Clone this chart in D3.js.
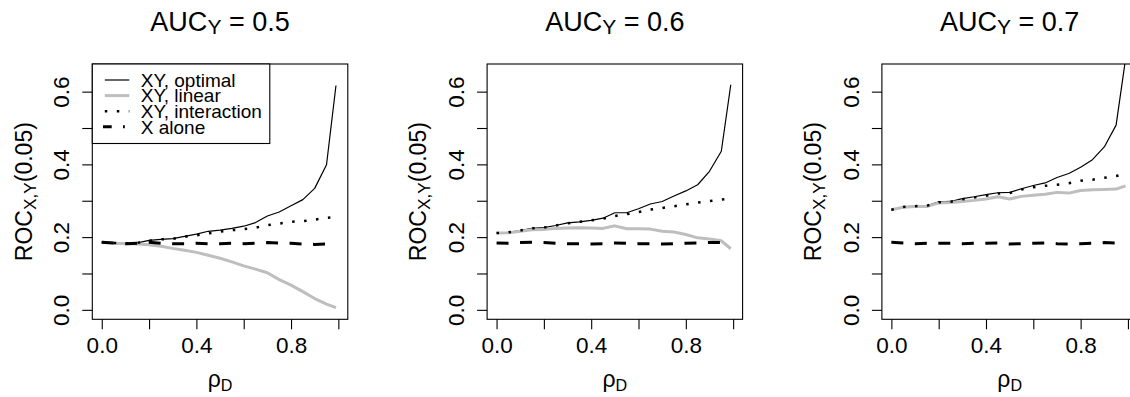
<!DOCTYPE html>
<html>
<head>
<meta charset="utf-8">
<script src="https://cdn.jsdelivr.net/npm/d3@7"></script>
<style>
  body { margin: 0; background: #fff; }
  svg { display: block; font-family: "Liberation Sans", Arial, Helvetica, sans-serif; }
</style>
</head>
<body>
<div class="container"></div>
<script>
const rho = [0, 0.05, 0.1, 0.15, 0.2, 0.25, 0.3, 0.35, 0.4, 0.45, 0.5,
  0.55, 0.6, 0.65, 0.7, 0.75, 0.8, 0.85, 0.9, 0.95, 0.99];

const aucLabels = ['0.5', '0.6', '0.7'];
const seriesNames = ['XY, optimal', 'XY, linear', 'XY, interaction', 'X alone'];
const xTicks = [0, 0.2, 0.4, 0.6, 0.8, 1.0];
const xTickLabels = ['0.0', '', '0.4', '', '0.8', ''];
const yTicks = [0, 0.1, 0.2, 0.3, 0.4, 0.5, 0.6];
const yTickLabels = ['0.0', '', '0.2', '', '0.4', '', '0.6'];

// AUC_Y = 0.5
const optimal05 = [0.186, 0.184, 0.183, 0.184, 0.191, 0.194, 0.196, 0.202, 0.208, 0.216, 0.219,
  0.224, 0.230, 0.240, 0.258, 0.269, 0.286, 0.303, 0.334, 0.399, 0.617];
const linear05 = [0.186, 0.183, 0.182, 0.181, 0.179, 0.175, 0.169, 0.164, 0.158, 0.150, 0.142,
  0.132, 0.121, 0.112, 0.102, 0.083, 0.068, 0.050, 0.031, 0.016, 0.006];
const interaction05 = [0.186, 0.184, 0.183, 0.184, 0.190, 0.194, 0.195, 0.201, 0.205, 0.210, 0.215,
  0.219, 0.222, 0.226, 0.233, 0.237, 0.242, 0.244, 0.248, 0.253, 0.255];
const alone05 = [0.186, 0.184, 0.182, 0.183, 0.186, 0.183, 0.182, 0.182, 0.183, 0.182, 0.182,
  0.183, 0.182, 0.183, 0.185, 0.184, 0.183, 0.181, 0.180, 0.181, 0.184];

// AUC_Y = 0.6
const optimal06 = [0.211, 0.213, 0.218, 0.224, 0.226, 0.232, 0.239, 0.242, 0.246, 0.252, 0.267,
  0.267, 0.278, 0.291, 0.298, 0.313, 0.327, 0.344, 0.381, 0.436, 0.619];
const linear06 = [0.211, 0.212, 0.216, 0.220, 0.221, 0.224, 0.225, 0.226, 0.225, 0.224, 0.231,
  0.223, 0.223, 0.222, 0.216, 0.214, 0.207, 0.198, 0.195, 0.190, 0.168];
const interaction06 = [0.211, 0.213, 0.218, 0.224, 0.226, 0.232, 0.238, 0.242, 0.246, 0.251, 0.258,
  0.263, 0.269, 0.276, 0.280, 0.285, 0.290, 0.295, 0.299, 0.303, 0.306];
const alone06 = [0.184, 0.183, 0.185, 0.186, 0.185, 0.183, 0.182, 0.182, 0.181, 0.182, 0.184,
  0.183, 0.182, 0.182, 0.181, 0.182, 0.183, 0.184, 0.185, 0.185, 0.181];

// AUC_Y = 0.7
const optimal07 = [0.275, 0.283, 0.285, 0.286, 0.297, 0.298, 0.306, 0.311, 0.317, 0.322, 0.323,
  0.333, 0.342, 0.349, 0.364, 0.375, 0.392, 0.413, 0.448, 0.508, 0.690];
const linear07 = [0.275, 0.282, 0.284, 0.284, 0.294, 0.295, 0.298, 0.301, 0.305, 0.311, 0.305,
  0.312, 0.315, 0.318, 0.323, 0.321, 0.328, 0.330, 0.331, 0.332, 0.341];
const interaction07 = [0.275, 0.283, 0.285, 0.286, 0.296, 0.297, 0.304, 0.309, 0.314, 0.320, 0.321,
  0.331, 0.337, 0.341, 0.344, 0.348, 0.355, 0.358, 0.363, 0.368, 0.374];
const alone07 = [0.186, 0.184, 0.182, 0.183, 0.183, 0.183, 0.182, 0.183, 0.183, 0.184, 0.181,
  0.182, 0.183, 0.184, 0.182, 0.181, 0.182, 0.183, 0.185, 0.184, 0.184];

(function(){
  const config = {
    w: 1130, h: 397,
    box: {left: 92.3, step: 394.8, top: 64, w: 255.5, h: 255.3},
    tick: 10,
    font: {tick: 22.5, lab: 23, title: 27, legend: 19}
  };

  const styles = [
    {stroke: '#000', width: 1.2, dash: null},
    {stroke: '#bebebe', width: 3, dash: null},
    {stroke: '#000', width: 2.5, dash: '2.5,9.5'},
    {stroke: '#000', width: 3, dash: '12,11.5'}
  ];

  const panels = [
    [optimal05, linear05, interaction05, alone05],
    [optimal06, linear06, interaction06, alone06],
    [optimal07, linear07, interaction07, alone07]
  ];

  const svg = d3.select('.container').append('svg')
    .attr('width', config.w)
    .attr('height', config.h);

  const x = d3.scaleLinear().domain([-0.04, 1.04]).range([0, config.box.w]);
  const y = d3.scaleLinear().domain([-0.026, 0.676]).range([config.box.h, 0]);

  const line = d3.line()
    .x((d, i) => x(rho[i]))
    .y(d => y(d));

  panels.forEach((series, p) => {
    const g = svg.append('g')
      .attr('transform', `translate(${config.box.left + p * config.box.step},${config.box.top})`);

    g.append('clipPath')
      .attr('id', 'clip' + p)
    .append('rect')
      .attr('width', config.box.w)
      .attr('height', config.box.h);

    g.append('g')
      .attr('clip-path', `url(#clip${p})`)
    .selectAll('path')
    .data(series)
    .enter().append('path')
      .attr('d', line)
      .attr('fill', 'none')
      .attr('stroke', (d, i) => styles[i].stroke)
      .attr('stroke-width', (d, i) => styles[i].width)
      .attr('stroke-dasharray', (d, i) => styles[i].dash)
      .attr('stroke-linejoin', 'round');

    g.append('rect')
      .attr('width', config.box.w)
      .attr('height', config.box.h)
      .attr('fill', 'none')
      .attr('stroke', '#000')
      .attr('stroke-width', 1.1);

    // x axis
    const xa = g.append('g')
      .attr('transform', `translate(0,${config.box.h})`)
      .call(d3.axisBottom(x)
        .tickValues(xTicks)
        .tickSize(config.tick)
        .tickPadding(8)
        .tickFormat((d, i) => xTickLabels[i]));
    xa.select('.domain').remove();
    xa.selectAll('line').attr('stroke-width', 1.1);
    xa.selectAll('text')
      .attr('font-size', config.font.tick)
      .attr('font-family', null)
      .attr('fill', '#000');

    // y axis, labels turned like R's las = 0
    const ya = g.append('g')
      .call(d3.axisLeft(y)
        .tickValues(yTicks)
        .tickSize(config.tick)
        .tickFormat((d, i) => yTickLabels[i]));
    ya.select('.domain').remove();
    ya.selectAll('line').attr('stroke-width', 1.1);
    ya.selectAll('text')
      .attr('font-size', config.font.tick)
      .attr('font-family', null)
      .attr('fill', '#000')
      .attr('text-anchor', 'middle')
      .attr('transform', 'rotate(-90)')
      .attr('x', 0)
      .attr('y', -23)
      .attr('dy', null);

    // title
    const title = g.append('text')
      .attr('x', config.box.w / 2)
      .attr('y', 30.5 - config.box.top)
      .attr('text-anchor', 'middle')
      .attr('font-size', config.font.title);
    title.append('tspan').text('AUC');
    title.append('tspan').attr('font-size', config.font.title * 0.78).attr('dy', 3).text('Y');
    title.append('tspan').attr('dy', -3).text(' = ' + aucLabels[p]);

    // x label
    const xl = g.append('text')
      .attr('x', config.box.w / 2)
      .attr('y', 387 - config.box.top)
      .attr('text-anchor', 'middle')
      .attr('font-size', config.font.lab);
    xl.append('tspan').text('ρ');
    xl.append('tspan').attr('font-size', config.font.lab * 0.7).attr('dy', 4).text('D');

    // y label
    const yl = g.append('text')
      .attr('transform', `translate(${31.5 - config.box.left},${config.box.h / 2}) rotate(-90)`)
      .attr('text-anchor', 'middle')
      .attr('font-size', config.font.lab);
    yl.append('tspan').text('ROC');
    yl.append('tspan').attr('font-size', config.font.lab * 0.75).attr('dy', 4).text('X,Y');
    yl.append('tspan').attr('dy', -4).text('(0.05)');

    if (p === 0) addLegend(g);
  });

  function addLegend(g) {
    const lg = g.append('g');
    lg.append('rect')
      .attr('width', 177.5)
      .attr('height', 79.5)
      .attr('fill', '#fff')
      .attr('stroke', '#000')
      .attr('stroke-width', 1.1);

    const row = lg.selectAll('g.item')
      .data(seriesNames)
      .enter().append('g')
        .attr('class', 'item')
        .attr('transform', (d, i) => `translate(0,${16 + i * 15.6})`);

    row.append('line')
      .attr('x1', (d, i) => i === 3 ? 10.7 : 12.5)
      .attr('x2', (d, i) => i === 3 ? 32.5 : 37)
      .attr('stroke', (d, i) => styles[i].stroke)
      .attr('stroke-width', (d, i) => styles[i].width)
      .attr('stroke-dasharray', (d, i) => i === 3 ? '8.7,11.3' : styles[i].dash);

    row.append('text')
      .attr('x', 48.5)
      .attr('y', 6.8)
      .attr('font-size', config.font.legend)
      .text(d => d);
  }
})();
</script>
</body>
</html>
